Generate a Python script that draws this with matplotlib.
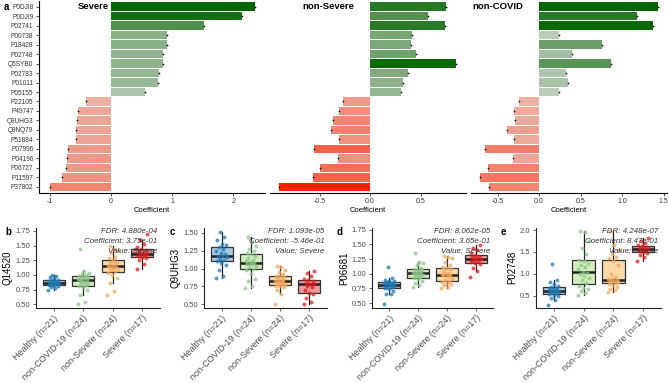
import matplotlib
matplotlib.use('Agg')
import matplotlib.pyplot as plt
import numpy as np
from matplotlib.colors import LinearSegmentedColormap

plt.rcParams['font.family'] = ['Liberation Sans', 'DejaVu Sans']

# ---------------- data: panel a ----------------
proteins = ['P0DJI8', 'P0DJI9', 'P02741', 'P00738', 'P18428', 'P02748', 'Q5SYB0',
            'P02783', 'P01011', 'P05155', 'P22105', 'P49747', 'Q9UHG3', 'Q9NQ79',
            'P51884', 'P07996', 'P04196', 'P06727', 'P11597', 'P37802']
coef_severe = [2.36, 2.15, 1.52, 0.92, 0.91, 0.85, 0.85, 0.79, 0.77, 0.56,
               -0.41, -0.54, -0.55, -0.57, -0.58, -0.71, -0.72, -0.74, -0.80, -1.00]
coef_nonsevere = [0.75, 0.57, 0.74, 0.42, 0.41, 0.46, 0.855, 0.38, 0.33, 0.31,
                  -0.27, -0.31, -0.37, -0.39, -0.31, -0.55, -0.32, -0.50, -0.56, -0.90]
coef_noncovid = [1.43, 1.18, 1.37, 0.24, 0.76, 0.40, 0.87, 0.32, 0.35, 0.24,
                 -0.24, -0.30, -0.29, -0.39, -0.30, -0.65, -0.32, -0.62, -0.71, -0.60]
panel_titles = ['Severe', 'non-Severe', 'non-COVID']

# ---------------- data: panels b-e ----------------
groups = ['Healthy (n=21)', 'non-COVID-19 (n=24)', 'non-Severe (n=24)', 'Severe (n=17)']

q14520 = [
    [0.75, 0.78, 0.80, 0.81, 0.82, 0.83, 0.84, 0.85, 0.85, 0.86, 0.87, 0.88, 0.88, 0.89, 0.90, 0.91, 0.92, 0.94, 0.96, 0.98, 1.00],
    [0.50, 0.53, 0.65, 0.74, 0.79, 0.81, 0.82, 0.84, 0.86, 0.88, 0.90, 0.91, 0.92, 0.93, 0.94, 0.95, 0.96, 0.97, 0.98, 0.99, 1.01, 1.03, 1.06, 1.44],
    [0.65, 0.72, 0.87, 0.95, 1.00, 1.04, 1.06, 1.08, 1.10, 1.12, 1.13, 1.14, 1.15, 1.16, 1.18, 1.20, 1.22, 1.25, 1.28, 1.30, 1.38, 1.42, 1.45, 1.50],
    [1.10, 1.18, 1.25, 1.28, 1.30, 1.32, 1.34, 1.35, 1.36, 1.38, 1.40, 1.42, 1.44, 1.47, 1.52, 1.60, 1.70],
]
q9uhg3 = [
    [0.87, 0.90, 0.98, 1.05, 1.08, 1.10, 1.12, 1.14, 1.16, 1.17, 1.18, 1.20, 1.22, 1.25, 1.28, 1.30, 1.33, 1.35, 1.40, 1.45, 1.52],
    [0.73, 0.76, 0.82, 0.86, 0.92, 0.98, 1.00, 1.02, 1.04, 1.06, 1.07, 1.08, 1.09, 1.10, 1.12, 1.15, 1.18, 1.20, 1.22, 1.25, 1.28, 1.32, 1.38, 1.44],
    [0.50, 0.64, 0.70, 0.74, 0.75, 0.76, 0.77, 0.78, 0.79, 0.80, 0.81, 0.82, 0.82, 0.83, 0.84, 0.86, 0.88, 0.89, 0.90, 0.92, 0.95, 0.98, 1.02, 1.03],
    [0.50, 0.53, 0.58, 0.64, 0.66, 0.70, 0.74, 0.76, 0.78, 0.79, 0.80, 0.82, 0.84, 0.85, 0.90, 0.94, 0.96],
]
p06681 = [
    [0.48, 0.65, 0.66, 0.70, 0.74, 0.76, 0.77, 0.78, 0.79, 0.80, 0.81, 0.82, 0.83, 0.84, 0.85, 0.86, 0.87, 0.88, 0.90, 0.92, 1.12],
    [0.78, 0.80, 0.84, 0.88, 0.91, 0.92, 0.94, 0.96, 0.97, 0.98, 0.99, 1.00, 1.01, 1.02, 1.03, 1.05, 1.06, 1.07, 1.08, 1.10, 1.15, 1.18, 1.20, 1.35],
    [0.76, 0.78, 0.80, 0.82, 0.84, 0.86, 0.88, 0.90, 0.93, 0.96, 0.97, 0.98, 0.99, 1.00, 1.02, 1.05, 1.08, 1.10, 1.12, 1.15, 1.20, 1.26, 1.28, 1.30],
    [0.94, 1.05, 1.10, 1.16, 1.18, 1.20, 1.22, 1.24, 1.25, 1.26, 1.28, 1.30, 1.32, 1.35, 1.40, 1.44, 1.49],
]
p02748 = [
    [0.28, 0.40, 0.45, 0.50, 0.52, 0.54, 0.56, 0.58, 0.59, 0.60, 0.61, 0.62, 0.64, 0.66, 0.68, 0.70, 0.72, 0.76, 0.80, 0.85, 1.22],
    [0.51, 0.55, 0.60, 0.65, 0.68, 0.72, 0.78, 0.85, 0.90, 0.95, 1.00, 1.02, 1.04, 1.10, 1.15, 1.20, 1.25, 1.30, 1.32, 1.45, 1.60, 1.75, 1.95, 1.97],
    [0.58, 0.62, 0.66, 0.70, 0.74, 0.77, 0.79, 0.80, 0.82, 0.84, 0.85, 0.86, 0.87, 0.88, 0.92, 1.00, 1.20, 1.30, 1.36, 1.38, 1.45, 1.55, 1.65, 1.97],
    [1.30, 1.38, 1.42, 1.47, 1.50, 1.52, 1.54, 1.55, 1.56, 1.58, 1.60, 1.62, 1.64, 1.66, 1.70, 1.75, 1.82],
]
box_names = ['Q14520', 'Q9UHG3', 'P06681', 'P02748']
box_fdr = ['4.880e-04', '1.093e-05', '8.062e-05', '4.248e-07']
box_coef = ['3.75e-01', '-5.46e-01', '3.65e-01', '8.47e-01']

# ---------------- layout helpers ----------------
W, H = 669, 383
fig = plt.figure(figsize=(W / 100, H / 100), dpi=100)


def px_axes(l, t, r, b):
    return fig.add_axes([l / W, 1 - b / H, (r - l) / W, (b - t) / H])


green_cmap = LinearSegmentedColormap.from_list('g', [(224/255, 224/255, 220/255), (0, 100/255, 0)])
red_cmap = LinearSegmentedColormap.from_list('r', [(232/255, 205/255, 195/255), (1.0, 32/255, 0)])

# ---------------- panel a ----------------
bar_specs = [
    (coef_severe, (39, 1, 265, 192.5), (-1.18, 2.52), [-1, 0, 1, 2], ['-1', '0', '1', '2'], (-0.03, 'right')),
    (coef_nonsevere, (270, 1, 466, 192.5), (-0.99, 0.95), [-0.5, 0.0, 0.5], ['-0.5', '0.0', '0.5'], (-0.41, 'center')),
    (coef_noncovid, (471, 1, 667, 192.5), (-0.82, 1.54), [-0.5, 0.0, 0.5, 1.0, 1.5], ['-0.5', '0.0', '0.5', '1.0', '1.5'], (-0.80, 'left')),
]
ypos = np.arange(len(proteins))[::-1]
for k, (vals, box, xl, ticks, tlabels, (tx, tha)) in enumerate(bar_specs):
    ax = px_axes(*box)
    vals = np.array(vals)
    m = np.abs(vals).max()
    cols = [green_cmap(v / m) if v > 0 else red_cmap(-v / m) for v in vals]
    ax.barh(ypos, vals, height=0.9, color=cols, zorder=2)
    ax.scatter(vals, ypos, s=1.5, c='black', zorder=3, linewidths=0)
    ax.set_xlim(*xl)
    ax.set_ylim(-0.6, len(proteins) - 0.4)
    ax.set_xticks(ticks)
    ax.set_xticklabels(tlabels)
    ax.tick_params(axis='x', labelsize=5, length=2.5, width=0.6, colors='#333333', pad=1.5)
    ax.set_xlabel('Coefficient', fontsize=5.5, labelpad=1.5)
    for s in ['top', 'right']:
        ax.spines[s].set_visible(False)
    ax.spines['bottom'].set_linewidth(0.8)
    if k == 0:
        ax.set_yticks(ypos)
        ax.set_yticklabels(proteins)
        ax.tick_params(axis='y', labelsize=4.7, length=2.5, width=0.6, colors='#333333', pad=1.5)
        ax.spines['left'].set_linewidth(0.8)
    else:
        ax.set_yticks([])
        ax.spines['left'].set_visible(False)
    ax.text(tx, ypos[0], panel_titles[k], ha=tha, va='center', fontsize=6.8, fontweight='bold')

fig.text(4 / W, 1 - 7 / H, 'a', fontsize=7, fontweight='bold', va='center', ha='left')

# ---------------- panels b-e ----------------
pt_colors = ['#1F78B4', '#8CC68A', '#F2A65A', '#E31A1C']
box_fills = [('#1F78B4', 0.4), ('#B2DF8A', 0.55), ('#FDBF6F', 0.6), ('#E31A1C', 0.45)]
box_specs = [
    (q14520, (36, 228, 160, 307.7), (0.44, 1.80), [0.5, 0.75, 1.0, 1.25, 1.5, 1.75], '%.2f', 'b', 5),
    (q9uhg3, (204, 228, 327, 307.7), (0.45, 1.57), [0.5, 0.75, 1.0, 1.25, 1.5], '%.2f', 'c', 170),
    (p06681, (372, 228, 493, 307.7), (0.42, 1.78), [0.5, 0.75, 1.0, 1.25, 1.5, 1.75], '%.2f', 'd', 337),
    (p02748, (536, 228, 661, 307.7), (0.22, 2.05), [0.5, 1.0, 1.5, 2.0], '%.1f', 'e', 501),
]
for k, (data, box, yl, yt, fmt, lab, labx) in enumerate(box_specs):
    ax = px_axes(*box)
    positions = np.arange(1, 5)
    bp = ax.boxplot(data, positions=positions, widths=0.75, patch_artist=True, showfliers=False,
                    medianprops=dict(color='#222222', linewidth=1.8),
                    boxprops=dict(edgecolor='#333333', linewidth=0.9),
                    whiskerprops=dict(color='#222222', linewidth=0.9),
                    capprops=dict(linewidth=0), zorder=1)
    for patch, (fc, a) in zip(bp['boxes'], box_fills):
        patch.set_facecolor(matplotlib.colors.to_rgba(fc, a))
    for g, vals in enumerate(data):
        n = len(vals)
        offs = ((np.arange(n) * 0.6180339) % 1 - 0.5) * 0.38
        ax.scatter(positions[g] + offs, vals, s=8, color=pt_colors[g], alpha=0.75,
                   linewidths=0, zorder=3)
    ax.set_xlim(0.4, 4.6)
    ax.set_ylim(*yl)
    ax.set_yticks(yt)
    ax.set_yticklabels([fmt % v for v in yt])
    ax.set_xticks(positions)
    ax.set_xticklabels(groups, rotation=45, ha='right', rotation_mode='anchor')
    ax.tick_params(axis='x', labelsize=6.5, length=2.5, width=0.6, colors='#4d4d4d', pad=1.5)
    ax.tick_params(axis='y', labelsize=5.5, length=2.5, width=0.6, colors='#4d4d4d', pad=1.5)
    for s in ['top', 'right']:
        ax.spines[s].set_visible(False)
    for s in ['left', 'bottom']:
        ax.spines[s].set_linewidth(0.8)
        ax.spines[s].set_color('#222222')
    ax.set_ylabel(box_names[k], fontsize=7, labelpad=2)
    ax.text(0.98, 0.96, 'FDR: ' + box_fdr[k], transform=ax.transAxes, ha='right', va='center',
            fontsize=5.7, style='italic', color='#333333', zorder=5)
    ax.text(0.98, 0.83, 'Coefficient: ' + box_coef[k], transform=ax.transAxes, ha='right', va='center',
            fontsize=5.7, style='italic', color='#333333', zorder=5)
    ax.text(0.98, 0.70, 'Value: Severe', transform=ax.transAxes, ha='right', va='center',
            fontsize=5.7, style='italic', color='#333333', zorder=5)
    fig.text(labx / W, 1 - 232 / H, lab, fontsize=7, fontweight='bold', va='center', ha='left')

fig.savefig('out.png', dpi=100)
